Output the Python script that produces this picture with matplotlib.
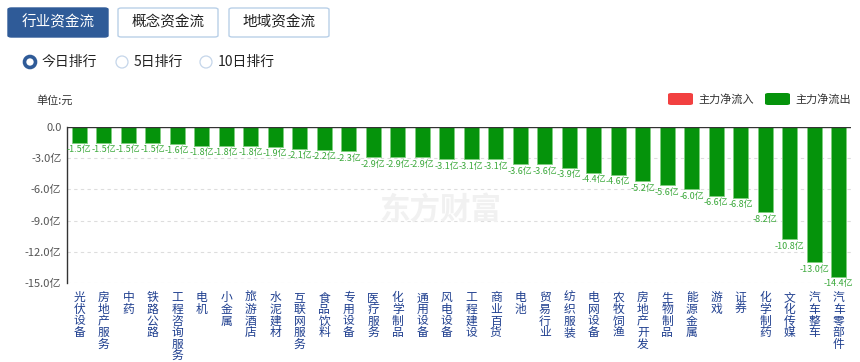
import matplotlib.pyplot as plt
from matplotlib.patches import FancyBboxPatch, Ellipse

plt.rcParams['font.family'] = ['Noto Sans CJK SC', 'DejaVu Sans']

# data
categories = ['光伏设备', '房地产服务', '中药', '铁路公路', '工程咨询服务', '电机', '小金属',
              '旅游酒店', '水泥建材', '互联网服务', '食品饮料', '专用设备', '医疗服务',
              '化学制品', '通用设备', '风电设备', '工程建设', '商业百货', '电池', '贸易行业',
              '纺织服装', '电网设备', '农牧饲渔', '房地产开发', '生物制品', '能源金属',
              '游戏', '证券', '化学制药', '文化传媒', '汽车整车', '汽车零部件']
values = [-1.5, -1.5, -1.5, -1.5, -1.6, -1.8, -1.8, -1.8, -1.9, -2.1, -2.2, -2.3,
          -2.9, -2.9, -2.9, -3.1, -3.1, -3.1, -3.6, -3.6, -3.9, -4.4, -4.6, -5.2,
          -5.6, -6.0, -6.6, -6.8, -8.2, -10.8, -13.0, -14.4]
yticks = [0, -3, -6, -9, -12, -15]
tabs = ['行业资金流', '概念资金流', '地域资金流']
radios = ['今日排行', '5日排行', '10日排行']

W, H = 860, 362
fig = plt.figure(figsize=(W / 100, H / 100), dpi=100)
fig.patch.set_facecolor('white')


def fx(px):
    return px / W


def fy(py):
    return 1 - py / H


# tab buttons
tab_x = [8, 118, 229]
for i, (label, x0) in enumerate(zip(tabs, tab_x)):
    active = i == 0
    fig.patches.append(FancyBboxPatch(
        (fx(x0), fy(37)), fx(100), 29 / H, boxstyle='round,pad=0,rounding_size=0.004',
        transform=fig.transFigure, facecolor='#2f5b98' if active else 'white',
        edgecolor='#2f5b98' if active else '#b9d0e8', linewidth=1))
    fig.text(fx(x0 + 50), fy(22.5), label, ha='center', va='center', fontsize=10.5,
             color='white' if active else '#222222')

# radio buttons
radio_x = [30, 122, 206]
for i, (label, cx) in enumerate(zip(radios, radio_x)):
    if i == 0:
        fig.patches.append(Ellipse((fx(cx), fy(62)), 11 / W, 11 / H, transform=fig.transFigure,
                                   facecolor='white', edgecolor='#2f5b98', linewidth=2.6))
    else:
        fig.patches.append(Ellipse((fx(cx), fy(62)), 12 / W, 12 / H, transform=fig.transFigure,
                                   facecolor='white', edgecolor='#c5d6ea', linewidth=0.9))
    fig.text(fx(cx + 12), fy(62), label, ha='left', va='center', fontsize=10, color='#222222')

fig.text(fx(36), fy(100), '单位:元', ha='left', va='center', fontsize=8, color='#333333')

# legend
for x0, col, label in [(668, '#f24040', '主力净流入'), (765, '#05930b', '主力净流出')]:
    fig.patches.append(FancyBboxPatch(
        (fx(x0), fy(105)), fx(25), 12 / H, boxstyle='round,pad=0,rounding_size=0.004',
        transform=fig.transFigure, facecolor=col, edgecolor='none'))
    fig.text(fx(x0 + 30), fy(99), label, ha='left', va='center', fontsize=8, color='#333333')

# watermark
fig.text(fx(440), fy(210), '东方财富', ha='center', va='center', fontsize=22,
         fontweight='bold', color='#f1f1f1', zorder=0)

ax = fig.add_axes([fx(67), fy(283), fx(851 - 67), (283 - 127) / H])
ax.set_facecolor('none')
x = list(range(len(categories)))
ax.bar(x, values, width=0.62, color='#05930b', edgecolor='#7fcf7f', linewidth=0.6, zorder=3)
for xi, v in zip(x, values):
    ax.text(xi, v - 0.25, f'{v:.1f}亿', ha='center', va='top', fontsize=6.5,
            color='#3aa83a', zorder=4)

ax.set_xlim(-0.5, len(categories) - 0.5)
ax.set_ylim(-15, 0)
ax.set_yticks(yticks)
ax.set_yticklabels(['0.0'] + [f'{t:.1f}亿' for t in yticks[1:]], fontsize=8, color='#555555')
ax.set_xticks(x)
ax.set_xticklabels(['\n'.join(c) for c in categories], fontsize=8.5, color='#1f3f8f',
                   linespacing=0.86, va='top')
ax.tick_params(axis='x', length=0, pad=6)
ax.tick_params(axis='y', length=0, pad=4)
for y in yticks[1:]:
    ax.axhline(y, color='#dddddd', linestyle=(0, (3, 3)), linewidth=0.8, zorder=1)
ax.axhline(0, color='#333333', linewidth=1.0, zorder=5)
for s in ['top', 'right', 'bottom']:
    ax.spines[s].set_visible(False)
ax.spines['left'].set_color('#333333')
ax.spines['left'].set_linewidth(1.0)

fig.savefig('out.png', dpi=100, facecolor='white')
